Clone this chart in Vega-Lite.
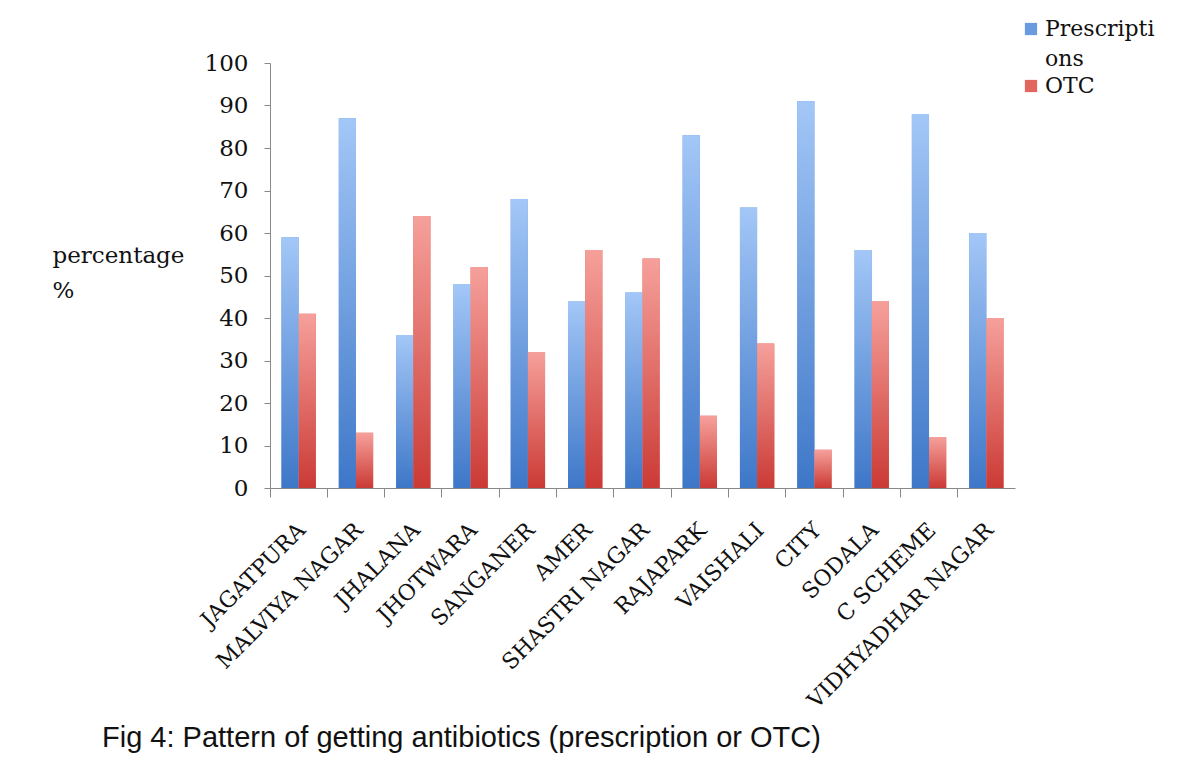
{
  "$schema": "https://vega.github.io/schema/vega-lite/v6.json",
  "width": 745,
  "height": 425,
  "autosize": "none",
  "padding": {"left": 270, "top": 63, "right": 171, "bottom": 284},
  "background": "white",
  "title": {
    "text": "Fig 4: Pattern of getting antibiotics (prescription or OTC)",
    "orient": "bottom",
    "anchor": "start",
    "frame": "group",
    "font": "Liberation Sans",
    "fontSize": 29,
    "fontWeight": "normal",
    "color": "#111",
    "dx": -168,
    "offset": 12
  },
  "data": {
    "values": [
      {"area": "JAGATPURA", "series": "Prescriptions", "value": 59},
      {"area": "JAGATPURA", "series": "OTC", "value": 41},
      {"area": "MALVIYA NAGAR", "series": "Prescriptions", "value": 87},
      {"area": "MALVIYA NAGAR", "series": "OTC", "value": 13},
      {"area": "JHALANA", "series": "Prescriptions", "value": 36},
      {"area": "JHALANA", "series": "OTC", "value": 64},
      {"area": "JHOTWARA", "series": "Prescriptions", "value": 48},
      {"area": "JHOTWARA", "series": "OTC", "value": 52},
      {"area": "SANGANER", "series": "Prescriptions", "value": 68},
      {"area": "SANGANER", "series": "OTC", "value": 32},
      {"area": "AMER", "series": "Prescriptions", "value": 44},
      {"area": "AMER", "series": "OTC", "value": 56},
      {"area": "SHASTRI NAGAR", "series": "Prescriptions", "value": 46},
      {"area": "SHASTRI NAGAR", "series": "OTC", "value": 54},
      {"area": "RAJAPARK", "series": "Prescriptions", "value": 83},
      {"area": "RAJAPARK", "series": "OTC", "value": 17},
      {"area": "VAISHALI", "series": "Prescriptions", "value": 66},
      {"area": "VAISHALI", "series": "OTC", "value": 34},
      {"area": "CITY", "series": "Prescriptions", "value": 91},
      {"area": "CITY", "series": "OTC", "value": 9},
      {"area": "SODALA", "series": "Prescriptions", "value": 56},
      {"area": "SODALA", "series": "OTC", "value": 44},
      {"area": "C SCHEME", "series": "Prescriptions", "value": 88},
      {"area": "C SCHEME", "series": "OTC", "value": 12},
      {"area": "VIDHYADHAR NAGAR", "series": "Prescriptions", "value": 60},
      {"area": "VIDHYADHAR NAGAR", "series": "OTC", "value": 40}
    ]
  },
  "encoding": {
    "x": {
      "field": "area",
      "type": "nominal",
      "sort": null,
      "scale": {"paddingInner": 0, "paddingOuter": 0},
      "axis": {
        "title": null,
        "bandPosition": 0,
        "labelAngle": -45,
        "labelAlign": "right",
        "labelBaseline": "top",
        "labelOffset": -4,
        "labelPadding": 22,
        "labelFont": "DejaVu Serif",
        "labelFontSize": 22,
        "labelColor": "#111",
        "labelLimit": 400,
        "tickSize": 9,
        "tickColor": "#888",
        "domainColor": "#888",
        "labelOverlap": false
      }
    },
    "xOffset": {
      "field": "series",
      "type": "nominal",
      "scale": {"domain": ["Prescriptions", "OTC"], "paddingInner": 0, "paddingOuter": 0.667}
    },
    "y": {
      "field": "value",
      "type": "quantitative",
      "scale": {"domain": [0, 100], "nice": false},
      "axis": {
        "values": [0, 10, 20, 30, 40, 50, 60, 70, 80, 90, 100],
        "grid": false,
        "title": ["percentage", "%"],
        "titleAngle": 0,
        "titleAlign": "left",
        "titleBaseline": "alphabetic",
        "titleX": -218,
        "titleY": 199,
        "titleFont": "DejaVu Serif",
        "titleFontSize": 23,
        "titleFontWeight": "normal",
        "titleColor": "#111",
        "titleLineHeight": 35,
        "labelFont": "DejaVu Serif",
        "labelFontSize": 23,
        "labelColor": "#111",
        "labelPadding": 16,
        "tickSize": 6,
        "tickColor": "#888",
        "domainColor": "#888"
      }
    }
  },
  "layer": [
    {
      "mark": {"type": "bar"},
      "encoding": {
        "color": {
          "field": "series",
          "type": "nominal",
          "scale": {"domain": ["Prescriptions", "OTC"], "range": ["#6A9BE0", "#E26560"]},
          "legend": {
            "title": null,
            "orient": "none",
            "legendX": 750,
            "legendY": -45,
            "symbolType": "square",
            "symbolSize": 150,
            "symbolStrokeWidth": 0,
            "labelFont": "DejaVu Serif",
            "labelFontSize": 22,
            "labelColor": "#111",
            "labelLimit": 300,
            "labelOffset": 3,
            "rowPadding": 5,
            "labelExpr": "datum.label === 'Prescriptions' ? ['Prescripti', 'ons'] : datum.label"
          }
        }
      }
    },
    {
      "mark": {"type": "bar"},
      "encoding": {
        "fill": {
          "condition": {
            "test": "datum.series === 'OTC'",
            "value": {
              "gradient": "linear", "x1": 0, "y1": 0, "x2": 0, "y2": 1,
              "stops": [{"offset": 0, "color": "#F6A09B"}, {"offset": 1, "color": "#CB3A35"}]
            }
          },
          "value": {
            "gradient": "linear", "x1": 0, "y1": 0, "x2": 0, "y2": 1,
            "stops": [{"offset": 0, "color": "#A3C7F7"}, {"offset": 1, "color": "#3E77C8"}]
          }
        }
      }
    }
  ],
  "config": {
    "view": {"stroke": null},
    "style": {"guide-label": {"lineHeight": 30}}
  }
}
